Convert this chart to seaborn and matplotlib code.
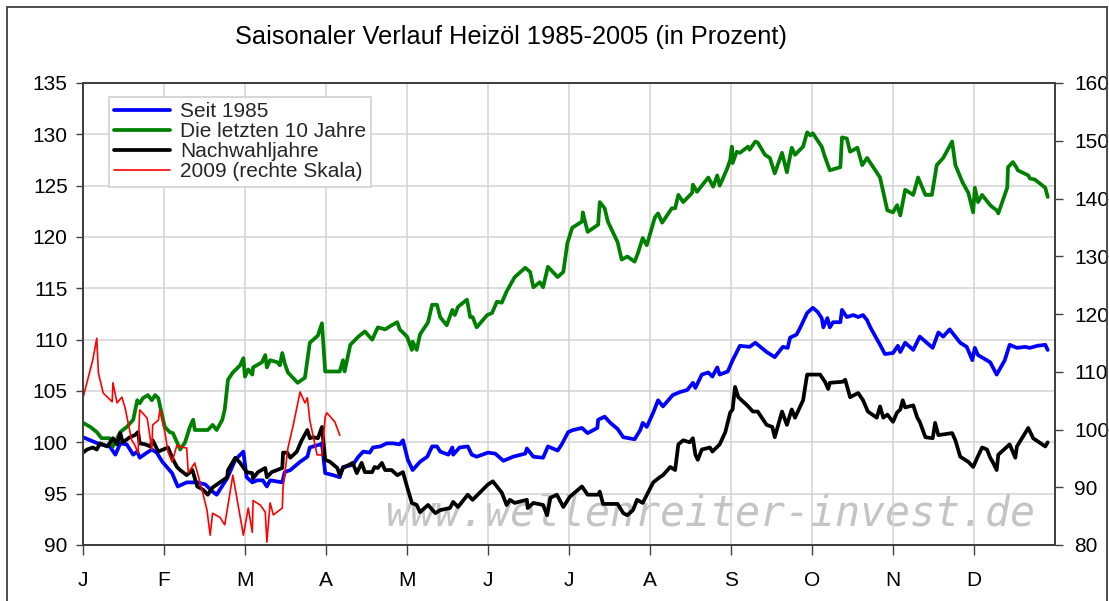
import matplotlib
matplotlib.use("Agg")
import matplotlib.pyplot as plt
import seaborn as sns
import pandas as pd
from matplotlib.patches import Rectangle

# ---------------- data (x in months from 1 Jan, y in percent) ----------------
months = ["J", "F", "M", "A", "M", "J", "J", "A", "S", "O", "N", "D"]
left_ticks = [90, 95, 100, 105, 110, 115, 120, 125, 130, 135]
right_ticks = [80, 90, 100, 110, 120, 130, 140, 150, 160]

seit_x = [0.00, 0.21, 0.33, 0.40, 0.46, 0.54, 0.62, 0.67, 0.70, 0.79,
          0.85, 0.91, 0.98, 1.10, 1.17, 1.28, 1.41, 1.51, 1.60, 1.65,
          1.78, 1.88, 1.98, 2.02, 2.09, 2.15, 2.22, 2.27, 2.31, 2.46,
          2.49, 2.56, 2.68, 2.77, 2.80, 2.93, 2.95, 2.99, 3.09, 3.17,
          3.21, 3.33, 3.40, 3.46, 3.54, 3.58, 3.67, 3.75, 3.83, 3.91,
          3.95, 4.01, 4.07, 4.16, 4.25, 4.31, 4.37, 4.41, 4.51, 4.56,
          4.57, 4.65, 4.75, 4.80, 4.86, 5.00, 5.09, 5.19, 5.31, 5.46,
          5.48, 5.56, 5.68, 5.74, 5.86, 5.91, 5.99, 6.05, 6.16, 6.23,
          6.35, 6.36, 6.44, 6.51, 6.60, 6.67, 6.81, 6.88, 6.91, 6.96,
          7.04, 7.10, 7.16, 7.28, 7.37, 7.46, 7.53, 7.56, 7.64, 7.72,
          7.77, 7.83, 7.86, 7.96, 8.02, 8.11, 8.23, 8.30, 8.44, 8.54,
          8.64, 8.70, 8.73, 8.81, 8.85, 8.94, 9.01, 9.07, 9.12, 9.14,
          9.19, 9.22, 9.26, 9.35, 9.37, 9.43, 9.51, 9.57, 9.63, 9.68,
          9.72, 9.84, 9.90, 10.00, 10.06, 10.09, 10.15, 10.25, 10.33, 10.49,
          10.56, 10.62, 10.70, 10.83, 10.91, 10.98, 11.01, 11.05, 11.20, 11.28,
          11.38, 11.44, 11.53, 11.63, 11.69, 11.78, 11.88, 11.91]
seit_y = [100.5, 99.8, 99.6, 98.8, 99.9, 99.8, 98.8, 99.1, 98.5, 99.0,
          99.3, 99.0, 98.1, 97.0, 95.7, 96.1, 96.1, 95.9, 95.2, 94.9,
          96.5, 98.3, 99.1, 96.6, 96.1, 96.3, 96.3, 95.7, 96.3, 96.1,
          97.1, 97.3, 98.1, 98.6, 99.5, 99.8, 99.9, 97.0, 96.8, 96.6,
          97.6, 97.8, 98.6, 99.1, 99.0, 99.5, 99.6, 99.9, 99.9, 99.8,
          100.2, 98.3, 97.3, 98.1, 98.6, 99.6, 99.6, 99.1, 98.8, 99.5,
          98.8, 99.5, 99.6, 98.8, 98.6, 99.0, 98.9, 98.2, 98.6, 98.9,
          99.4, 98.6, 98.5, 99.6, 99.2, 99.8, 101.0, 101.2, 101.4, 100.9,
          101.4, 102.2, 102.5, 101.9, 101.3, 100.5, 100.3, 101.2, 101.9, 101.5,
          102.9, 104.1, 103.5, 104.6, 104.9, 105.1, 105.8, 105.3, 106.6, 106.8,
          106.4, 107.3, 106.6, 106.9, 108.0, 109.4, 109.3, 109.7, 108.8, 108.3,
          109.3, 109.2, 110.2, 110.5, 111.1, 112.6, 113.1, 112.7, 112.1, 111.2,
          112.1, 111.2, 111.7, 111.7, 112.9, 112.2, 112.4, 112.2, 112.4, 111.9,
          111.2, 109.5, 108.6, 108.7, 109.4, 108.8, 109.7, 109.0, 110.3, 109.2,
          110.7, 110.3, 111.0, 109.7, 109.3, 108.0, 109.2, 108.5, 107.8, 106.6,
          108.0, 109.5, 109.2, 109.3, 109.2, 109.4, 109.5, 109.0]

zehn_x = [0.00, 0.09, 0.17, 0.23, 0.33, 0.37, 0.46, 0.54, 0.62, 0.67,
          0.70, 0.74, 0.80, 0.85, 0.89, 0.93, 0.98, 1.01, 1.07, 1.11,
          1.20, 1.26, 1.32, 1.36, 1.38, 1.54, 1.60, 1.65, 1.72, 1.75,
          1.79, 1.85, 1.94, 1.98, 2.00, 2.04, 2.09, 2.10, 2.21, 2.25,
          2.27, 2.31, 2.40, 2.43, 2.46, 2.49, 2.53, 2.65, 2.74, 2.80,
          2.90, 2.95, 2.99, 3.17, 3.21, 3.23, 3.30, 3.40, 3.48, 3.57,
          3.64, 3.73, 3.81, 3.88, 3.91, 4.00, 4.06, 4.07, 4.12, 4.16,
          4.26, 4.31, 4.37, 4.41, 4.49, 4.56, 4.59, 4.63, 4.74, 4.78,
          4.81, 4.86, 4.99, 5.05, 5.11, 5.17, 5.23, 5.33, 5.46, 5.52,
          5.56, 5.64, 5.68, 5.74, 5.86, 5.93, 5.98, 6.04, 6.16, 6.17,
          6.23, 6.36, 6.38, 6.44, 6.48, 6.60, 6.65, 6.72, 6.81, 6.85,
          6.91, 6.96, 7.06, 7.10, 7.15, 7.27, 7.31, 7.35, 7.41, 7.52,
          7.53, 7.58, 7.72, 7.78, 7.83, 7.86, 7.95, 7.99, 8.01, 8.02,
          8.07, 8.11, 8.21, 8.23, 8.30, 8.33, 8.42, 8.48, 8.54, 8.63,
          8.69, 8.75, 8.79, 8.89, 8.94, 8.98, 9.01, 9.12, 9.16, 9.22,
          9.35, 9.37, 9.43, 9.47, 9.56, 9.62, 9.68, 9.84, 9.93, 10.00,
          10.05, 10.09, 10.15, 10.25, 10.31, 10.40, 10.48, 10.54, 10.62, 10.73,
          10.77, 10.86, 10.93, 10.99, 11.01, 11.05, 11.10, 11.20, 11.23, 11.28,
          11.30, 11.41, 11.42, 11.48, 11.53, 11.54, 11.67, 11.69, 11.75, 11.88,
          11.91]
zehn_y = [101.9, 101.5, 101.0, 100.4, 100.4, 99.6, 101.0, 101.5, 102.2, 104.1,
          103.8, 104.3, 104.6, 104.1, 104.6, 104.3, 102.5, 101.5, 101.0, 100.9,
          99.3, 100.0, 101.5, 102.2, 101.2, 101.2, 101.7, 101.2, 102.2, 103.2,
          106.1, 106.8, 107.5, 108.2, 106.4, 107.1, 106.6, 107.3, 107.8, 108.5,
          107.3, 108.0, 107.8, 107.5, 108.7, 107.7, 106.8, 105.8, 106.3, 109.7,
          110.4, 111.6, 106.9, 106.9, 108.0, 106.9, 109.5, 110.3, 110.8, 110.0,
          111.2, 111.0, 111.4, 111.7, 111.0, 110.3, 109.0, 109.8, 109.0, 110.5,
          111.7, 113.4, 113.4, 112.2, 111.4, 112.9, 112.4, 113.2, 113.9, 112.2,
          112.2, 111.2, 112.4, 112.6, 113.7, 113.6, 114.7, 116.1, 117.0, 116.6,
          115.1, 115.6, 115.1, 117.1, 116.1, 116.6, 119.4, 120.9, 121.5, 122.4,
          120.5, 121.2, 123.4, 122.8, 121.5, 119.5, 117.8, 118.1, 117.6, 118.4,
          119.9, 119.2, 121.9, 122.3, 121.4, 122.8, 122.8, 124.1, 123.4, 124.3,
          125.1, 124.4, 125.8, 124.9, 126.0, 125.0, 126.6, 127.5, 128.8, 127.2,
          128.3, 128.2, 128.8, 128.5, 129.3, 129.2, 128.0, 127.7, 126.2, 128.2,
          126.3, 128.7, 128.0, 128.8, 130.2, 129.9, 130.1, 128.8, 127.8, 126.5,
          126.8, 129.7, 129.6, 128.3, 128.7, 127.0, 127.7, 125.8, 122.6, 122.4,
          123.1, 122.1, 124.6, 124.1, 125.8, 124.1, 124.1, 127.0, 127.7, 129.3,
          127.0, 125.3, 124.3, 122.4, 124.8, 123.4, 124.1, 123.1, 122.9, 122.6,
          122.3, 124.8, 126.8, 127.3, 126.7, 126.5, 126.0, 125.7, 125.6, 124.8,
          123.9]

nach_x = [0.00, 0.05, 0.12, 0.17, 0.21, 0.30, 0.37, 0.42, 0.46, 0.49,
          0.58, 0.64, 0.68, 0.70, 0.77, 0.83, 0.86, 0.93, 0.99, 1.05,
          1.10, 1.16, 1.20, 1.28, 1.35, 1.41, 1.48, 1.54, 1.60, 1.69,
          1.78, 1.79, 1.88, 1.94, 2.02, 2.09, 2.10, 2.16, 2.25, 2.27,
          2.33, 2.46, 2.47, 2.52, 2.56, 2.64, 2.70, 2.77, 2.80, 2.84,
          2.90, 2.95, 2.99, 3.05, 3.14, 3.17, 3.21, 3.33, 3.38, 3.44,
          3.48, 3.57, 3.60, 3.64, 3.69, 3.73, 3.81, 3.88, 3.95, 4.00,
          4.06, 4.12, 4.16, 4.26, 4.35, 4.41, 4.53, 4.57, 4.63, 4.75,
          4.81, 5.00, 5.06, 5.17, 5.23, 5.27, 5.33, 5.48, 5.49, 5.56,
          5.68, 5.73, 5.77, 5.85, 5.93, 6.01, 6.16, 6.23, 6.36, 6.38,
          6.42, 6.60, 6.67, 6.72, 6.79, 6.84, 6.91, 7.04, 7.12, 7.16,
          7.25, 7.31, 7.35, 7.41, 7.49, 7.53, 7.56, 7.59, 7.64, 7.74,
          7.77, 7.86, 7.93, 7.99, 8.02, 8.05, 8.09, 8.20, 8.27, 8.33,
          8.44, 8.51, 8.54, 8.63, 8.69, 8.75, 8.79, 8.89, 8.94, 9.10,
          9.16, 9.20, 9.22, 9.38, 9.41, 9.47, 9.57, 9.63, 9.69, 9.80,
          9.84, 9.88, 9.93, 10.00, 10.05, 10.09, 10.12, 10.15, 10.25, 10.30,
          10.33, 10.40, 10.49, 10.52, 10.56, 10.73, 10.77, 10.83, 10.93, 10.99,
          11.04, 11.10, 11.16, 11.20, 11.23, 11.28, 11.30, 11.44, 11.51, 11.53,
          11.67, 11.73, 11.88, 11.91]
nach_y = [99.0, 99.3, 99.5, 99.3, 99.9, 99.6, 100.4, 99.8, 100.9, 100.0,
          100.5, 100.7, 101.0, 99.9, 99.8, 99.6, 100.2, 99.1, 99.3, 99.5,
          98.5, 97.6, 97.3, 96.8, 97.3, 95.7, 95.4, 94.9, 95.6, 96.1,
          96.6, 97.3, 98.5, 98.0, 97.1, 97.0, 96.5, 97.1, 97.5, 96.6,
          97.1, 97.5, 99.0, 99.0, 98.5, 99.1, 100.2, 101.2, 100.4, 100.5,
          100.4, 101.5, 98.3, 98.1, 97.5, 96.8, 97.5, 98.0, 97.0, 98.0,
          97.1, 97.1, 97.6, 97.5, 98.0, 97.3, 97.3, 96.8, 97.1, 95.7,
          94.1, 93.9, 93.2, 93.9, 93.1, 93.4, 93.6, 94.2, 93.7, 94.9,
          94.4, 95.9, 96.2, 95.1, 93.9, 94.4, 94.1, 94.4, 93.6, 94.1,
          93.9, 92.9, 94.6, 94.9, 93.7, 94.7, 95.7, 94.9, 94.9, 95.2,
          94.0, 94.0, 93.1, 92.9, 93.4, 94.4, 94.1, 96.1, 96.6, 96.8,
          97.6, 97.3, 99.8, 100.2, 100.0, 100.4, 98.8, 98.3, 99.3, 99.5,
          99.1, 99.8, 101.0, 102.9, 103.2, 105.4, 104.4, 103.6, 103.0, 103.0,
          101.7, 101.5, 100.5, 103.0, 101.7, 103.2, 102.4, 104.1, 106.6, 106.6,
          105.9, 105.2, 105.8, 105.9, 106.1, 104.4, 104.8, 104.1, 103.0, 102.4,
          103.5, 102.4, 102.7, 102.0, 102.9, 103.2, 104.1, 103.4, 103.6, 102.4,
          102.0, 100.5, 100.4, 101.9, 100.7, 100.9, 100.2, 98.6, 98.1, 97.6,
          98.5, 99.5, 99.3, 98.5, 98.1, 97.3, 98.8, 99.8, 98.5, 99.6,
          101.4, 100.4, 99.6, 100.0]

y2009_x = [0.00, 0.12, 0.17, 0.19, 0.25, 0.36, 0.37, 0.42, 0.48, 0.52,
           0.60, 0.64, 0.68, 0.70, 0.79, 0.80, 0.85, 0.86, 0.93, 0.95,
           1.01, 1.05, 1.10, 1.16, 1.20, 1.28, 1.30, 1.38, 1.47, 1.53,
           1.57, 1.60, 1.69, 1.75, 1.85, 1.91, 1.98, 2.04, 2.09, 2.10,
           2.19, 2.25, 2.27, 2.31, 2.35, 2.46, 2.47, 2.53, 2.59, 2.68,
           2.74, 2.77, 2.80, 2.89, 2.95, 2.99, 3.01, 3.11, 3.17]
y2009_y = [105.5, 112.0, 115.8, 109.8, 106.3, 104.8, 108.1, 104.6, 105.6, 103.7,
           98.2, 97.3, 95.9, 103.4, 102.0, 101.3, 96.5, 100.8, 101.6, 103.4,
           99.6, 96.1, 94.4, 97.3, 97.0, 96.8, 92.5, 94.2, 89.5, 86.1,
           81.7, 85.5, 84.8, 83.5, 92.1, 87.3, 81.7, 86.4, 82.2, 87.7,
           86.9, 85.7, 80.5, 87.3, 85.2, 86.4, 90.0, 96.8, 100.4, 106.5,
           104.6, 105.5, 101.6, 95.6, 95.6, 102.2, 102.9, 101.3, 99.0]

# ---------------- styling ----------------
sns.set_style("white")
plt.rcParams['font.family'] = ['Liberation Sans', 'DejaVu Sans']

W, H = 1109, 601
fig = plt.figure(figsize=(W / 100, H / 100), dpi=100)
L, R, T, B = 83, 1055, 83, 545
ax = fig.add_axes([L / W, 1 - B / H, (R - L) / W, (B - T) / H])

df_seit = pd.DataFrame({"m": seit_x, "v": seit_y})
df_zehn = pd.DataFrame({"m": zehn_x, "v": zehn_y})
df_nach = pd.DataFrame({"m": nach_x, "v": nach_y})
df_2009 = pd.DataFrame({"m": y2009_x, "v": y2009_y})

lw = 2.7
sns.lineplot(data=df_seit, x="m", y="v", ax=ax, color="#0000ff", linewidth=lw,
             estimator=None, sort=False, label="Seit 1985")
sns.lineplot(data=df_zehn, x="m", y="v", ax=ax, color="#008000", linewidth=lw,
             estimator=None, sort=False, label="Die letzten 10 Jahre")
sns.lineplot(data=df_nach, x="m", y="v", ax=ax, color="#000000", linewidth=lw,
             estimator=None, sort=False, label="Nachwahljahre")

ax2 = ax.twinx()
sns.lineplot(data=df_2009, x="m", y="v", ax=ax2, color="#ff0000", linewidth=1.2,
             estimator=None, sort=False, label="2009 (rechte Skala)")

ax.set_xlim(0, 12)
ax.set_ylim(90, 135)
ax2.set_ylim(80, 160)
ax.set_xticks(range(12))
ax.set_xticklabels(months)
ax.set_yticks(left_ticks)
ax2.set_yticks(right_ticks)
ax.set_xlabel("")
ax.set_ylabel("")
ax2.set_ylabel("")

ax.set_axisbelow(True)
ax.grid(True, color="#d3d3d3", linewidth=1.1)
ax2.grid(False)

spc = "#404040"
for a in (ax, ax2):
    for s in a.spines.values():
        s.set_color(spc)
        s.set_linewidth(1.4)
        s.set_visible(True)

ax.tick_params(axis="y", which="both", left=True, direction="out", length=5,
               width=1, color=spc, labelsize=15, pad=6, labelcolor="black")
ax.tick_params(axis="x", which="both", bottom=True, direction="out", length=7,
               width=1, color=spc, labelsize=15, pad=12, labelcolor="black")
ax2.tick_params(axis="y", which="both", right=True, direction="out", length=6,
                width=1, color=spc, labelsize=15, pad=8, labelcolor="black")

# watermark
ax.text((1035 - L) / (R - L), (B - 525) / (B - T), "www.wellenreiter-invest.de",
        transform=ax.transAxes, ha="right", va="baseline", fontsize=30,
        style="italic", color="#c4c4c4",
        family=["DejaVu Sans Mono"], zorder=0)

# legend
h1, l1 = ax.get_legend_handles_labels()
h2, l2 = ax2.get_legend_handles_labels()
if ax.get_legend() is not None:
    ax.get_legend().remove()
if ax2.get_legend() is not None:
    ax2.get_legend().remove()
leg = ax2.legend(h1 + h2, l1 + l2, loc="upper left",
                 bbox_to_anchor=((109 - L) / (R - L), (B - 97) / (B - T)),
                 borderaxespad=0, fontsize=15, frameon=True, fancybox=False,
                 edgecolor="#d0d0d0", framealpha=1, labelspacing=0.05,
                 handlelength=2.7, handletextpad=0.45, borderpad=0.25)
leg.get_frame().set_linewidth(1.2)

# title
fig.text(511 / W, 1 - 37 / H, "Saisonaler Verlauf Heizöl 1985-2005 (in Prozent)",
         ha="center", va="center", fontsize=18.3, color="black")

# outer chart border
fig.patches.append(Rectangle((7 / W, -0.05), (1107 - 7) / W, 1 - 7 / H + 0.05,
                             transform=fig.transFigure, fill=False,
                             edgecolor=spc, linewidth=1.3))

fig.savefig("out.png", dpi=100)
